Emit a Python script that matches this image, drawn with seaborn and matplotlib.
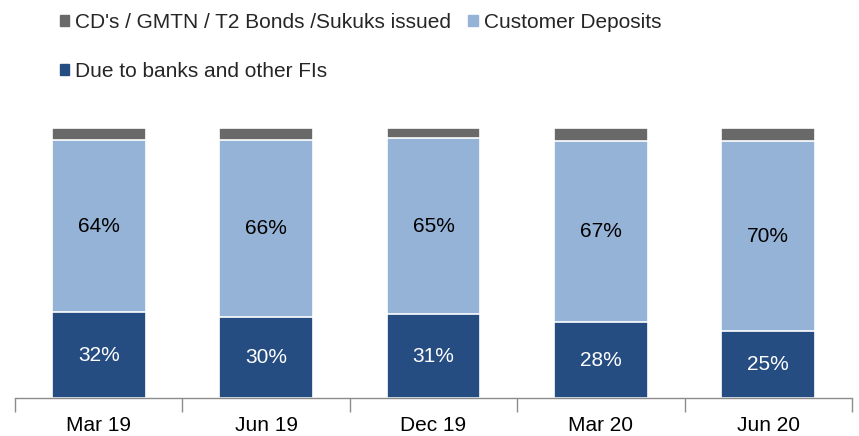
import matplotlib
matplotlib.use("Agg")
import matplotlib.pyplot as plt
import seaborn as sns
import pandas as pd
import numpy as np
from matplotlib.ticker import FixedLocator

quarters = ["Mar 19", "Jun 19", "Dec 19", "Mar 20", "Jun 20"]
due_to_banks = [31.8, 30.0, 31.0, 28.0, 25.0]
customer_deposits = [63.7, 65.6, 65.2, 67.0, 70.0]
cds_bonds = [4.5, 4.4, 3.8, 5.0, 5.0]

series_names = ["CD's / GMTN / T2 Bonds /Sukuks issued", "Customer Deposits",
                "Due to banks and other FIs"]
colors = ["#696969", "#95B3D7", "#264D82"]

df = pd.DataFrame({"quarter": quarters, "due": due_to_banks,
                   "cust": customer_deposits, "cds": cds_bonds})
df["lvl2"] = df["due"] + df["cust"]
df["lvl3"] = df["lvl2"] + df["cds"]

sns.set_theme(style="white")
plt.rcParams["font.family"] = ["Liberation Sans", "DejaVu Sans"]

fig = plt.figure(figsize=(8.59, 4.36), dpi=100)
ax = fig.add_axes([15 / 859, 1 - 398 / 436, 837 / 859, 270 / 436])

# stacked look by overlaying cumulative bars, tallest first
for col, c in zip(["lvl3", "lvl2", "due"], colors):
    sns.barplot(data=df, x="quarter", y=col, color=c, width=0.56,
                edgecolor="white", linewidth=1.2, ax=ax, saturation=1)

for i in range(len(quarters)):
    ax.text(i, due_to_banks[i] / 2, f"{due_to_banks[i]:.0f}%", ha="center",
            va="center", color="white", fontsize=15)
    ax.text(i, due_to_banks[i] + customer_deposits[i] / 2,
            f"{customer_deposits[i]:.0f}%", ha="center", va="center",
            color="black", fontsize=15)

ax.set_xlim(-0.5, len(quarters) - 0.5)
ax.set_ylim(0, 100)
ax.set_xlabel("")
ax.set_ylabel("")
ax.set_yticks([])
for s in ["top", "right", "left"]:
    ax.spines[s].set_visible(False)
ax.spines["bottom"].set_color("#8c8c8c")
ax.spines["bottom"].set_linewidth(1)
ax.xaxis.set_minor_locator(FixedLocator(np.arange(-0.5, len(quarters), 1)))
ax.tick_params(axis="x", which="major", length=0, pad=13, labelsize=15,
               labelcolor="black")
ax.tick_params(axis="x", which="minor", bottom=True, length=10, width=1,
               color="#8c8c8c", direction="out")

# legend fills column by column: put the second-row item second
order = [0, 2, 1]
handles = [plt.Rectangle((0, 0), 1, 1, color=colors[k]) for k in order]
labels = [series_names[k] for k in order]
fig.legend(handles, labels, loc="upper left", ncol=2,
           bbox_to_anchor=(0.06, 0.99), frameon=False, fontsize=15,
           handlelength=0.45, handleheight=0.45, handletextpad=0.3,
           labelspacing=1.45, columnspacing=0.8, borderaxespad=0)

fig.savefig("out.png", dpi=100)
